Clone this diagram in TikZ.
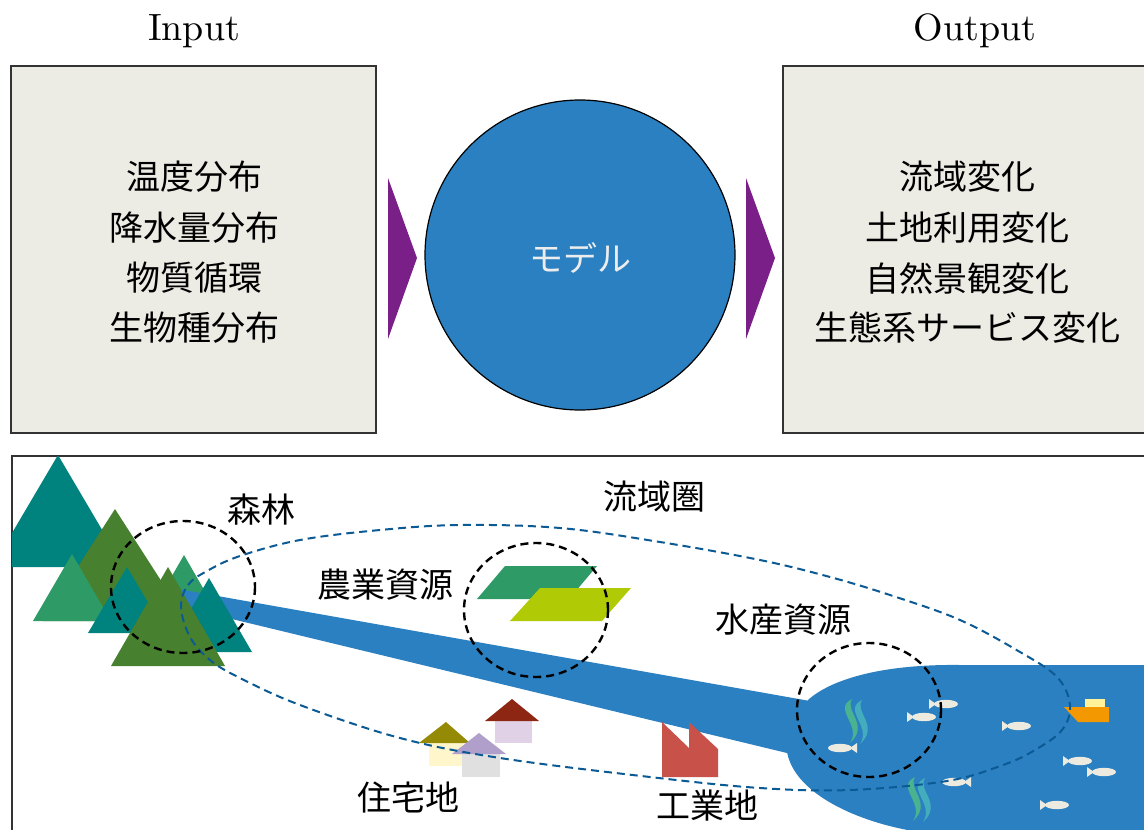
\documentclass[tikz,border=0pt]{standalone}
\usepackage{fontspec}
\newfontfamily\jpfont{Noto Sans CJK JP}
\newfontfamily\headfont{lmroman10-regular.otf}
\definecolor{panelfill}{HTML}{ECEBE4}
\definecolor{panelline}{HTML}{333333}
\definecolor{water}{HTML}{2B80C1}
\definecolor{arrowpurple}{HTML}{7A1E88}
\definecolor{mteal}{HTML}{00827F}
\definecolor{mdark}{HTML}{47812F}
\definecolor{mlight}{HTML}{2E9A66}
\definecolor{fieldgreen}{HTML}{2E9A66}
\definecolor{fieldlime}{HTML}{B0CB06}
\definecolor{roofolive}{HTML}{948A05}
\definecolor{wallcream}{HTML}{FFF6CC}
\definecolor{rooflilac}{HTML}{B09FCB}
\definecolor{wallgray}{HTML}{E0E0E0}
\definecolor{roofred}{HTML}{8E2614}
\definecolor{walllilac}{HTML}{E1D1E6}
\definecolor{factory}{HTML}{C8514A}
\definecolor{fishwhite}{HTML}{EDEBE0}
\definecolor{boathull}{HTML}{F39800}
\definecolor{boatcabin}{HTML}{FFF29A}
\definecolor{weedgreen}{HTML}{4DB98A}
\definecolor{weedteal}{HTML}{48B6BE}
\definecolor{basinblue}{HTML}{0B5A94}
\begin{document}
\begin{tikzpicture}[x=1pt,y=-1pt,
  panel/.style={draw=panelline, line width=1.5pt, fill=panelfill, inner sep=0pt},
  jp/.style={font=\jpfont\fontsize{34}{40}\selectfont, inner sep=0pt, anchor=center},
  heading/.style={font=\headfont\fontsize{38}{42}\selectfont, inner sep=0pt, anchor=base},
  dashblack/.style={draw=black, line width=2.4pt, dash pattern=on 8pt off 5pt},
  dashblue/.style={draw=basinblue, line width=2pt, dash pattern=on 8pt off 5pt},
  fishpic/.pic={
    \fill[fishwhite] (2,0) ellipse [x radius=12, y radius=4.2];
    \fill[fishwhite] (-15,-5) -- (-8,0) -- (-15,5) -- cycle;
  },
  weedpic/.pic={
    \fill[weedgreen, opacity=.9] (0,0) .. controls (-20,10) and (10,26) .. (-2,44)
      .. controls (18,26) and (-8,12) .. cycle;
    \fill[weedteal, opacity=.85] (10,1) .. controls (-10,11) and (20,27) .. (8,45)
      .. controls (28,27) and (2,13) .. cycle;
  }]
\useasboundingbox (0,0) rectangle (1144,830);
\clip (0,0) rectangle (1144,830);

% ---------- upper part: model scheme ----------
\node[heading] (inlabel) at (194,40) {Input};
\node[heading] (outlabel) at (975,40) {Output};

\node[panel, minimum width=365pt, minimum height=367pt] (inbox) at (193.5,249.5) {};
\node[panel, minimum width=367pt, minimum height=367pt] (outbox) at (966.5,249.5) {};

\node[jp] (in1) at (194,177) {温度分布};
\node[jp] (in2) at (194,228) {降水量分布};
\node[jp] (in3) at (194,278) {物質循環};
\node[jp] (in4) at (194,328) {生物種分布};

\node[jp] (out1) at (967,177) {流域変化};
\node[jp] (out2) at (967,228) {土地利用変化};
\node[jp] (out3) at (967,278) {自然景観変化};
\node[jp] (out4) at (967,328) {生態系サービス変化};

\node[circle, draw=black, line width=1.2pt, fill=water, minimum size=310pt, inner sep=0pt] (model) at (580,255) {};
\node[jp, text=white!93!black] (modeltext) at (580,258) {モデル};

\fill[arrowpurple] (388,178) -- (417,258) -- (388,339) -- cycle;
\fill[arrowpurple] (746,178) -- (775,258) -- (746,339) -- cycle;

% ---------- lower part: river basin ----------
\node[draw=panelline, line width=1.5pt, fill=white, minimum width=1150pt, minimum height=400pt, inner sep=0pt, anchor=north west] (basinpanel) at (11,455) {};

\begin{scope}
\clip (12,456) rectangle (1150,840);
% mountains
\fill[mteal]  (58,455)  -- (124,567) -- (-8,567) -- cycle;
\fill[mdark]  (115,509) -- (187,621) -- (43,621) -- cycle;
\fill[mlight] (72,554)  -- (111,621) -- (33,621) -- cycle;
\fill[mteal]  (127,567) -- (166,633) -- (88,633) -- cycle;
\fill[mlight] (184,555) -- (222,621) -- (146,621) -- cycle;
% river and sea
\fill[water] (178,589) -- (810,701) -- (787,753) -- (178,606) -- cycle;
\fill[water] (808,700) .. controls (830,680) and (880,664) .. (960,665)
  -- (1150,665) -- (1150,840) -- (915,840) -- (913,831)
  .. controls (860,822) and (795,795) .. (787,752) -- cycle;
\fill[mteal]  (209,578) -- (252,652) -- (166,652) -- cycle;
\fill[mdark]  (168,567) -- (225,666) -- (111,666) -- cycle;
\end{scope}

% fields
\fill[fieldgreen] (505,566) -- (597,566) -- (569,599) -- (477,599) -- cycle;
\fill[fieldlime]  (540,588) -- (631,588) -- (602,621) -- (510,621) -- cycle;

% houses
\fill[wallcream] (429,743) rectangle (463,766);
\fill[roofolive] (446,722) -- (470,743) -- (419,743) -- cycle;
\fill[wallgray] (462,754) rectangle (500,777);
\fill[rooflilac] (479,733) -- (506,754) -- (452,754) -- cycle;
\fill[walllilac] (495,721) rectangle (532,743);
\fill[roofred] (512,699) -- (539,721) -- (485,721) -- cycle;

% factory
\fill[factory] (662,722) -- (689,748) -- (689,722) -- (718,749) -- (718,777) -- (662,777) -- cycle;

% fish, seaweed and boat
\pic at (944,704) {fishpic};
\pic at (922,717) {fishpic};
\pic[xscale=-1] at (842,748) {fishpic};
\pic at (1017,726) {fishpic};
\pic[xscale=-1] at (956,782) {fishpic};
\pic at (1078,761) {fishpic};
\pic at (1102,772) {fishpic};
\pic at (1055,805) {fishpic};
\pic at (852,699) {weedpic};
\pic at (915,777) {weedpic};
\fill[boatcabin] (1085,699) rectangle (1105,708);
\fill[boathull] (1064,707) -- (1109,707) -- (1109,722) -- (1078,722) -- cycle;

% dashed outlines
\draw[dashblue] plot[smooth cycle, tension=0.6] coordinates {
  (181,607) (188,585) (207,571) (240,556) (300,540) (380,530) (460,525)
  (560,528) (660,542) (760,560) (830,577) (893,596) (960,620) (1020,652)
  (1057,677) (1070,705) (1062,730) (1035,750) (1003,765) (947,781)
  (850,790) (760,788) (650,777) (500,758) (400,738) (300,705) (240,678)
  (210,660) (190,637)};
\draw[dashblack] (183,587) ellipse [x radius=72, y radius=66];
\draw[dashblack] (536,610) ellipse [x radius=72, y radius=67];
\draw[dashblack] (869,710) ellipse [x radius=72, y radius=67];

% labels
\node[jp] (forest) at (261,510) {森林};
\node[jp] (basin) at (654,497) {流域圏};
\node[jp] (agri) at (385,585) {農業資源};
\node[jp] (fishery) at (783,620) {水産資源};
\node[jp] (resid) at (408,797) {住宅地};
\node[jp] (indus) at (707,806) {工業地};
\end{tikzpicture}
\end{document}
